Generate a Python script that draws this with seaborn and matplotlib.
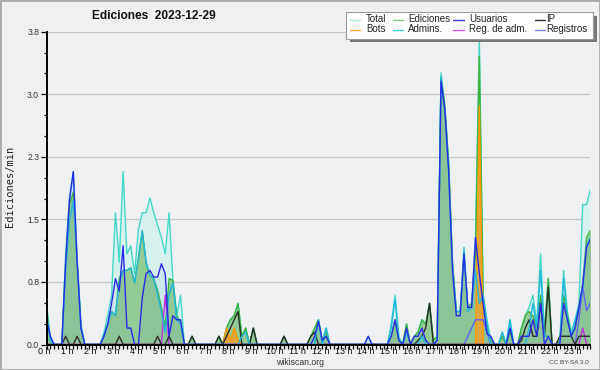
import numpy as np
import pandas as pd
import matplotlib
matplotlib.use("Agg")
import matplotlib.pyplot as plt
import matplotlib.transforms as mtransforms
from matplotlib.patches import Rectangle
from matplotlib.lines import Line2D
import seaborn as sns

# ---------------- data (10-minute bins, edits per minute) ----------------
BIN_MINUTES = 10

total = [
    0.5, 0.1, 0, 0, 0, 1.1, 1.8, 2.1, 1.05, 0.25, 0, 0,
    0, 0, 0, 0.15, 0.35, 0.6, 1.6, 1.0, 2.1, 1.1, 1.2, 0.86,
    1.4, 1.6, 1.6, 1.78, 1.6, 1.45, 1.3, 1.1, 1.6, 0.78, 0.35, 0.6,
    0, 0, 0.1, 0, 0, 0, 0, 0, 0, 0.1, 0, 0.2,
    0.3, 0.35, 0.5, 0.1, 0.2, 0, 0.2, 0, 0, 0, 0, 0,
    0, 0, 0.1, 0, 0, 0, 0, 0, 0, 0.1, 0.2, 0.3,
    0.05, 0.2, 0, 0, 0, 0, 0, 0, 0, 0, 0, 0,
    0.1, 0, 0, 0, 0, 0, 0.25, 0.6, 0.1, 0, 0.25, 0,
    0.1, 0.15, 0.3, 0.25, 0.5, 0.05, 0.1, 3.3, 2.9, 2.2, 1.0, 0.4,
    0.4, 1.1, 0.45, 0.5, 1.3, 3.72, 0.6, 0.3, 0.05, 0, 0, 0.15,
    0, 0.3, 0, 0, 0.2, 0.35, 0.45, 0.6, 0.25, 1.1, 0.15, 0.8,
    0, 0, 0.05, 0.9, 0.4, 0.15, 0.3, 0.5, 1.7, 1.7, 1.89,
]

ediciones = [
    0.45, 0.05, 0, 0, 0, 1.0, 1.7, 1.85, 1.0, 0.2, 0, 0,
    0, 0, 0, 0.1, 0.25, 0.4, 0.35, 0.8, 0.9, 0.9, 0.93, 0.75,
    1.05, 1.38, 1.0, 0.84, 0.8, 0.66, 0.45, 0.2, 0.8, 0.78, 0.35, 0.27,
    0, 0, 0.1, 0, 0, 0, 0, 0, 0, 0.1, 0, 0.2,
    0.3, 0.35, 0.5, 0.1, 0.2, 0, 0.2, 0, 0, 0, 0, 0,
    0, 0, 0.1, 0, 0, 0, 0, 0, 0, 0.1, 0.2, 0.3,
    0.05, 0.15, 0, 0, 0, 0, 0, 0, 0, 0, 0, 0,
    0, 0, 0, 0, 0, 0, 0.1, 0.3, 0.05, 0, 0.25, 0,
    0.1, 0.15, 0.3, 0.25, 0.5, 0.05, 0.1, 3.25, 2.9, 2.2, 1.0, 0.4,
    0.4, 1.1, 0.45, 0.5, 1.1, 3.5, 0.5, 0.2, 0.05, 0, 0, 0.1,
    0, 0.15, 0, 0, 0.2, 0.35, 0.4, 0.35, 0.2, 0.6, 0.15, 0.8,
    0, 0, 0.05, 0.6, 0.35, 0.1, 0.2, 0.45, 0.74, 1.3, 1.39,
]

usuarios = [
    0.3, 0.1, 0, 0, 0, 1.0, 1.75, 2.1, 1.0, 0.2, 0, 0,
    0, 0, 0, 0.1, 0.25, 0.5, 0.8, 0.65, 1.2, 0.2, 0.2, 0,
    0, 0.57, 0.86, 0.9, 0.82, 0.82, 0.98, 0.86, 0.1, 0.35, 0.3, 0.3,
    0, 0, 0, 0, 0, 0, 0, 0, 0, 0, 0, 0,
    0, 0, 0, 0, 0, 0, 0, 0, 0, 0, 0, 0,
    0, 0, 0, 0, 0, 0, 0, 0, 0, 0, 0.1, 0.28,
    0.05, 0.1, 0, 0, 0, 0, 0, 0, 0, 0, 0, 0,
    0.1, 0, 0, 0, 0, 0, 0.1, 0.3, 0.05, 0, 0.2, 0,
    0.1, 0.1, 0.2, 0.05, 0, 0, 0.05, 3.2, 2.85, 2.1, 0.9, 0.35,
    0.35, 1.1, 0.45, 0.45, 1.3, 0.86, 0.5, 0.13, 0.1, 0, 0, 0,
    0, 0.2, 0, 0, 0.1, 0.1, 0.1, 0.3, 0.1, 0.5, 0, 0.1,
    0, 0, 0, 0.5, 0.3, 0.1, 0.2, 0.45, 0.72, 1.18, 1.28,
]

ip = [
    0, 0, 0, 0, 0, 0.1, 0, 0, 0.1, 0, 0, 0,
    0, 0, 0, 0, 0, 0, 0, 0.1, 0, 0, 0, 0,
    0, 0, 0, 0, 0, 0.1, 0, 0, 0.1, 0, 0, 0,
    0, 0, 0.1, 0, 0, 0, 0, 0, 0, 0.1, 0, 0.1,
    0.2, 0.3, 0.4, 0, 0, 0, 0.2, 0, 0, 0, 0, 0,
    0, 0, 0.1, 0, 0, 0, 0, 0, 0, 0.1, 0.15, 0,
    0, 0, 0, 0, 0, 0, 0, 0, 0, 0, 0, 0,
    0, 0, 0, 0, 0, 0, 0, 0, 0, 0, 0, 0,
    0, 0.05, 0.1, 0.2, 0.5, 0, 0, 0, 0, 0, 0, 0,
    0, 0, 0, 0, 0, 0, 0, 0, 0, 0, 0, 0,
    0, 0, 0, 0, 0.05, 0.2, 0.3, 0.1, 0.1, 0.5, 0.1, 0.7,
    0, 0, 0.1, 0.1, 0.1, 0.1, 0, 0.1, 0.1, 0.1, 0.1,
]

bots = [
    0, 0, 0, 0, 0, 0, 0, 0, 0, 0, 0, 0,
    0, 0, 0, 0, 0, 0, 0, 0, 0, 0, 0, 0,
    0, 0, 0, 0, 0, 0, 0, 0, 0, 0, 0, 0,
    0, 0, 0, 0, 0, 0, 0, 0, 0, 0, 0, 0.2,
    0.05, 0.2, 0.05, 0, 0, 0, 0, 0, 0, 0, 0, 0,
    0, 0, 0, 0, 0, 0, 0, 0, 0, 0, 0, 0,
    0, 0, 0, 0, 0, 0, 0, 0, 0, 0, 0, 0,
    0, 0, 0, 0, 0, 0, 0, 0, 0, 0, 0, 0,
    0, 0, 0, 0, 0, 0, 0, 0, 0, 0, 0, 0,
    0, 0, 0, 0, 0, 2.9, 0, 0, 0, 0, 0, 0,
    0, 0, 0, 0, 0, 0, 0, 0, 0, 0, 0, 0,
    0, 0, 0, 0, 0, 0, 0, 0, 0, 0, 0,
]

admins = [
    0.4, 0.05, 0, 0, 0, 0.9, 1.5, 1.75, 1.0, 0.2, 0, 0,
    0, 0, 0, 0.1, 0.25, 0.4, 0.35, 0.75, 0.9, 0.9, 0.93, 0.75,
    1.05, 1.38, 1.0, 0.84, 0.8, 0.6, 0.4, 0.15, 0.6, 0.75, 0.3, 0.25,
    0, 0, 0, 0, 0, 0, 0, 0, 0, 0, 0, 0,
    0, 0, 0, 0.1, 0.15, 0, 0, 0, 0, 0, 0, 0,
    0, 0, 0, 0, 0, 0, 0, 0, 0, 0, 0, 0.3,
    0, 0.2, 0, 0, 0, 0, 0, 0, 0, 0, 0, 0,
    0, 0, 0, 0, 0, 0, 0.2, 0.55, 0.05, 0, 0.15, 0,
    0, 0, 0.1, 0, 0, 0, 0.05, 3.25, 2.85, 2.1, 0.95, 0.4,
    0.4, 1.18, 0.4, 0.45, 0.9, 0.5, 0.6, 0.25, 0, 0, 0, 0.15,
    0, 0.3, 0, 0, 0, 0, 0.2, 0.5, 0.2, 0.9, 0.1, 0.1,
    0, 0, 0, 0.8, 0.3, 0.1, 0.3, 0.45, 0.7, 1.2, 1.3,
]

reg_adm = [
    0, 0, 0, 0, 0, 0, 0, 0, 0, 0, 0, 0,
    0, 0, 0, 0, 0, 0, 0, 0, 0, 0, 0, 0,
    0, 0, 0, 0, 0, 0, 0, 0.6, 0, 0, 0, 0,
    0, 0, 0, 0, 0, 0, 0, 0, 0, 0, 0, 0,
    0, 0, 0, 0, 0, 0, 0, 0, 0, 0, 0, 0,
    0, 0, 0, 0, 0, 0, 0, 0, 0, 0, 0, 0,
    0, 0, 0, 0, 0, 0, 0, 0, 0, 0, 0, 0,
    0, 0, 0, 0, 0, 0, 0, 0, 0, 0, 0, 0,
    0, 0, 0, 0, 0, 0, 0, 0, 0, 0, 0, 0,
    0, 0, 0, 0, 0, 0, 0, 0, 0, 0, 0, 0,
    0, 0, 0, 0, 0, 0, 0, 0, 0, 0, 0, 0,
    0, 0, 0, 0, 0, 0, 0, 0, 0.2, 0, 0,
]

registros = [
    0, 0, 0, 0, 0, 0, 0, 0, 0, 0, 0, 0,
    0, 0, 0, 0, 0, 0, 0, 0, 0, 0, 0, 0,
    0, 0, 0, 0, 0, 0, 0, 0, 0, 0, 0, 0,
    0, 0, 0, 0, 0, 0, 0, 0, 0, 0, 0, 0,
    0, 0, 0, 0, 0, 0, 0, 0, 0, 0, 0, 0,
    0, 0, 0, 0, 0, 0, 0, 0, 0, 0, 0, 0,
    0, 0, 0, 0, 0, 0, 0, 0, 0, 0, 0, 0,
    0, 0, 0, 0, 0, 0, 0, 0, 0, 0, 0, 0,
    0, 0, 0, 0, 0, 0, 0, 0, 0, 0, 0, 0,
    0, 0, 0.1, 0.2, 0.3, 0.3, 0.3, 0.15, 0, 0, 0, 0,
    0, 0, 0, 0, 0, 0, 0, 0, 0, 0, 0, 0,
    0, 0, 0, 0, 0, 0, 0, 0.3, 0.7, 0.41, 0.51,
]

series_names = ["Total", "Ediciones", "Usuarios", "IP",
                "Bots", "Admins.", "Reg. de adm.", "Registros"]
hours = list(range(24))
hour_labels = [f"{h} h" for h in hours]
ytick_values = [0, 0.76, 1.52, 2.28, 3.04, 3.8]
ytick_labels = ["0.0", "0.8", "1.5", "2.3", "3.0", "3.8"]
title = "Ediciones  2023-12-29"
ylabel = "Ediciones/min"

# ---------------- styling ----------------
line_colors = {
    "Total": "#45d8c8", "Ediciones": "#3cb23c", "Usuarios": "#2a2ae6",
    "IP": "#2b2b2b", "Bots": "#ff9900", "Admins.": "#22b8dd",
    "Reg. de adm.": "#c030e0", "Registros": "#6464f0",
}
legend_colors = {
    "Total": "#a8e6de", "Ediciones": "#80cc80", "Usuarios": "#3535d8",
    "IP": "#303030", "Bots": "#f5a040", "Admins.": "#40c8e0",
    "Reg. de adm.": "#d050e0", "Registros": "#8080f0",
}

sns.set_theme(style="white")
plt.rcParams["font.family"] = ["Liberation Sans", "DejaVu Sans"]

W, H = 600, 370
BG = "#eff0f1"
fig = plt.figure(figsize=(W / 100, H / 100), dpi=100)
fig.patch.set_facecolor(BG)

x0, x1, y0, y1 = 46.5, 590.4, 31.7, 344.5
ax = fig.add_axes([x0 / W, (H - y1) / H, (x1 - x0) / W, (y1 - y0) / H])
ax.set_facecolor(BG)

n = len(total)
t = np.arange(n) * BIN_MINUTES / 60.0
df = pd.DataFrame({
    "t": t, "Total": total, "Ediciones": ediciones, "Usuarios": usuarios,
    "IP": ip, "Bots": bots, "Admins.": admins,
    "Reg. de adm.": reg_adm, "Registros": registros,
})

# fills
ax.fill_between(df["t"], df["Total"], color="#d6f2ee", lw=0, zorder=1)
ax.fill_between(df["t"], df["Ediciones"], color="#8cc98c", alpha=0.92, lw=0, zorder=2)
ax.fill_between(df["t"], df["Usuarios"], color="#3060c0", alpha=0.07, lw=0, zorder=3)
ax.fill_between(df["t"], df["Bots"], color="#ff9a20", alpha=0.75, lw=0, zorder=3)

# lines
order = [("Total", 4), ("Ediciones", 5), ("Bots", 6), ("Registros", 6),
         ("Reg. de adm.", 7), ("IP", 7), ("Admins.", 8), ("Usuarios", 9)]
for name, z in order:
    sns.lineplot(data=df, x="t", y=name, color=line_colors[name], lw=1.0,
                 ax=ax, zorder=z, estimator=None, legend=False)

ax.set_xlim(0, t[-1])
ax.set_ylim(0, 3.8)
ax.set_xlabel("")
ax.set_ylabel("")

# grid
ax.set_axisbelow(True)
ax.yaxis.grid(True, color="#c6c6c6", lw=0.9)
ax.xaxis.grid(False)

# spines
for s in ["top", "right"]:
    ax.spines[s].set_visible(False)
for s in ["left", "bottom"]:
    ax.spines[s].set_visible(True)
    ax.spines[s].set_color("black")
    ax.spines[s].set_linewidth(1.4)
    ax.spines[s].set_zorder(20)

# ticks
ax.set_xticks(hours)
ax.set_xticklabels(hour_labels)
ax.set_xticks(t, minor=True)
ax.set_yticks(ytick_values)
ax.set_yticklabels(ytick_labels)
ax.set_yticks(np.linspace(0, 3.8, 16), minor=True)
ax.tick_params(axis="x", which="both", bottom=True, direction="out",
               length=3.0, width=0.9, color="black", pad=0.0,
               labelsize=6.5, labelcolor="#111")
ax.tick_params(axis="y", which="major", left=True, direction="out",
               length=4.5, width=0.9, color="black", pad=0.8,
               labelsize=6.2, labelcolor="#333")
ax.tick_params(axis="y", which="minor", left=True, direction="out",
               length=2.5, width=0.9, color="black")
shift = mtransforms.ScaledTranslation(-2 / 100, 1.5 / 100, fig.dpi_scale_trans)
for lbl in ax.get_xticklabels():
    lbl.set_transform(lbl.get_transform() + shift)

# texts
def fx(px):
    return px / W

def fy(py):
    return 1 - py / H

fig.text(fx(154), fy(16), title, ha="center", va="center",
         fontsize=8.6, fontweight="bold", color="#111")
fig.text(fx(10), fy(186), ylabel, rotation=90, ha="center", va="center",
         fontsize=7.5, family=["DejaVu Sans Mono"], color="#222")
fig.text(fx(300), fy(362.5), "wikiscan.org", ha="center", va="center",
         fontsize=6.2, color="#333")
fig.text(fx(569), fy(362.5), "CC BY-SA 3.0", ha="center", va="center",
         fontsize=4.6, color="#444")

# legend (drawn manually)
fig.add_artist(Rectangle((fx(350), fy(42)), (597 - 350) / W, (42 - 16) / H,
                         transform=fig.transFigure, facecolor="#777777",
                         edgecolor="none", zorder=30))
fig.add_artist(Rectangle((fx(346), fy(38.5)), (593 - 346) / W, (38.5 - 12) / H,
                         transform=fig.transFigure, facecolor="white",
                         edgecolor="#9a9a9a", lw=0.8, zorder=31))
cols = [(350, 360, 366), (392.7, 403, 408.3), (453, 464, 469), (535, 545, 546)]
rows = [19.5, 29.5]
layout = [["Total", "Ediciones", "Usuarios", "IP"],
          ["Bots", "Admins.", "Reg. de adm.", "Registros"]]
for r, row_names in enumerate(layout):
    for c, name in enumerate(row_names):
        hx0, hx1, tx = cols[c]
        yy = fy(rows[r])
        fig.add_artist(Line2D([fx(hx0), fx(hx1)], [yy, yy],
                              transform=fig.transFigure,
                              color=legend_colors[name], lw=1.0, zorder=32))
        fig.text(fx(tx), yy, name, ha="left", va="center", fontsize=7.0,
                 color="#222", zorder=33)

# border
fig.add_artist(Rectangle((0, 0), 1, 1, transform=fig.transFigure,
                         fill=False, edgecolor="#a9a9a9", lw=2, zorder=40))

fig.savefig("out.png", dpi=100, facecolor=BG)
